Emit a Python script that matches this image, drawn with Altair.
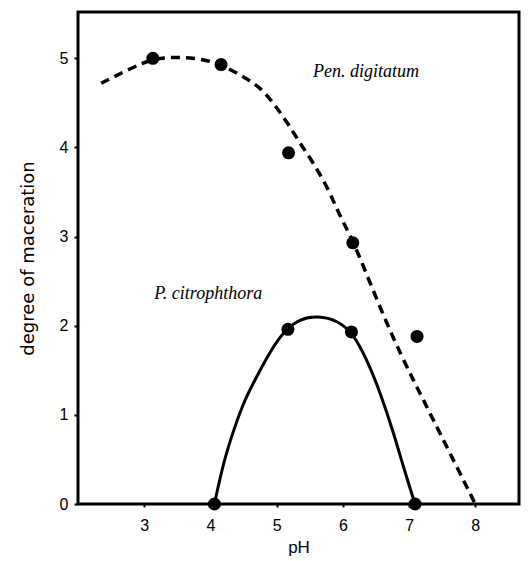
import altair as alt
import pandas as pd

# Measured points: degree of maceration vs pH
pen_ph = [3.13, 4.16, 5.18, 6.15, 7.12]
pen_deg = [5.0, 4.93, 3.94, 2.93, 1.88]

cit_ph = [4.06, 5.17, 6.13, 7.09]
cit_deg = [0.0, 1.96, 1.93, 0.0]

# Hand-fitted trend curves traced through the data
pen_curve_ph = [2.35, 2.8, 3.14, 3.56, 3.96, 4.19, 4.51, 4.76, 4.96, 5.17, 5.36, 5.56,
                5.77, 5.92, 6.07, 6.22, 6.68, 7.07, 7.43, 8.0]
pen_curve_deg = [4.72, 4.89, 5.0, 5.02, 4.98, 4.92, 4.79, 4.67, 4.49, 4.27, 4.04, 3.82,
                 3.55, 3.29, 3.07, 2.84, 1.98, 1.38, 0.85, 0.0]

cit_curve_ph = [4.06, 4.2, 4.36, 4.51, 4.72, 4.91, 5.11, 5.36, 5.62, 5.92, 6.15,
                6.37, 6.57, 6.77, 6.92, 7.09]
cit_curve_deg = [0.0, 0.48, 0.85, 1.16, 1.46, 1.72, 1.94, 2.08, 2.11, 2.06, 1.92,
                 1.61, 1.24, 0.79, 0.4, 0.0]

pts = pd.DataFrame({
    "pH": pen_ph + cit_ph,
    "deg": pen_deg + cit_deg,
})
pen_line = pd.DataFrame({"pH": pen_curve_ph, "deg": pen_curve_deg})
cit_line = pd.DataFrame({"pH": cit_curve_ph, "deg": cit_curve_deg})
labels = pd.DataFrame({
    "pH": [5.55, 3.15],
    "deg": [4.85, 2.36],
    "text": ["Pen. digitatum", "P. citrophthora"],
})

x = alt.X("pH:Q", scale=alt.Scale(domain=[2.0, 8.66], nice=False, zero=False),
          axis=alt.Axis(values=[3, 4, 5, 6, 7, 8], title="pH", grid=False, domain=False,
                        tickSize=3, tickWidth=2, tickColor="black",
                        labelPadding=10, labelFontSize=16, labelColor="black",
                        labelFont="Liberation Sans", titleFont="Liberation Sans",
                        titleFontSize=17, titleFontWeight="normal", titleColor="black",
                        titlePadding=6))
y = alt.Y("deg:Q", scale=alt.Scale(domain=[0, 5.52], nice=False),
          axis=alt.Axis(values=[0, 1, 2, 3, 4, 5], title="degree  of  maceration", grid=False,
                        domain=False, tickSize=4, tickWidth=2, tickColor="black",
                        labelPadding=6, labelFontSize=16, labelColor="black",
                        labelFont="Liberation Sans", titleFont="DejaVu Sans",
                        titleFontSize=18, titleFontWeight="normal", titleColor="black",
                        titlePadding=22))

pen = alt.Chart(pen_line).mark_line(
    color="black", strokeWidth=3.5, strokeDash=[9, 6], interpolate="basis"
).encode(x=x, y=y)

cit = alt.Chart(cit_line).mark_line(
    color="black", strokeWidth=3, interpolate="basis"
).encode(x=x, y=y)

dots = alt.Chart(pts).mark_circle(color="black", opacity=1, size=170).encode(x=x, y=y)

txt = alt.Chart(labels).mark_text(
    font="Liberation Serif", fontStyle="italic", fontSize=18, color="black", align="left"
).encode(x=x, y=y, text="text:N")

chart = (pen + cit + dots + txt).properties(
    width=441, height=492,
    autosize=alt.AutoSizeParams(type="none"),
    padding={"left": 78, "top": 12, "right": 11, "bottom": 57},
).configure(
    background="white",
    view=alt.ViewConfig(stroke="black", strokeWidth=3),
)

chart.save("out.html", embed_options={"renderer": "svg", "actions": False})
